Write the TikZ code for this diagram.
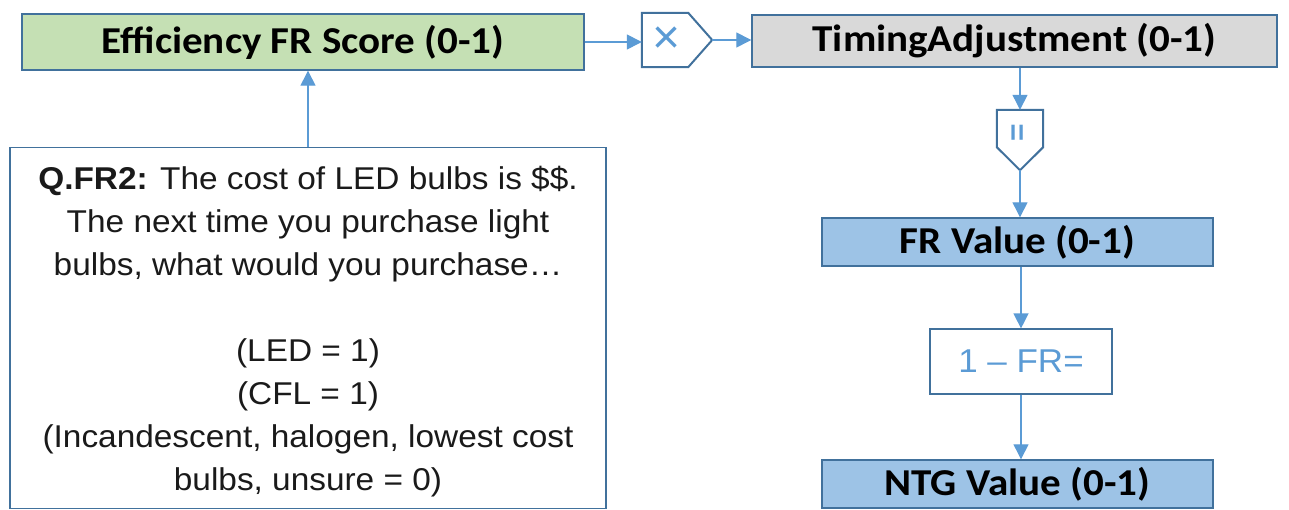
\documentclass[tikz,border=0pt]{standalone}
\usepackage{fontspec}
\setmainfont{Liberation Sans}
\newfontfamily\headfont[FakeStretch=1.08]{Carlito}
\newfontfamily\bodyfont[FakeStretch=1.06]{Liberation Sans}
\usetikzlibrary{arrows.meta}
\definecolor{edge}{HTML}{41719C}
\definecolor{link}{HTML}{5B9BD5}
\definecolor{greenfill}{HTML}{C5E0B4}
\definecolor{grayfill}{HTML}{D9D9D9}
\definecolor{bluefill}{HTML}{9DC3E6}
\definecolor{ink}{HTML}{1A1A1A}
\begin{document}
\begin{tikzpicture}[x=1pt,y=-1pt,
  base/.style={draw=edge, line width=1.4pt, inner sep=0pt, text=black,
    font=\headfont\bfseries\fontsize{38}{40}\selectfont},
  greenbox/.style={base, fill=greenfill},
  graybox/.style={base, fill=grayfill},
  bluebox/.style={base, fill=bluefill},
  plainbox/.style={draw=edge, line width=1.2pt, inner sep=0pt, fill=white},
  opshape/.style={inner sep=0pt, draw=none},
  flow/.style={draw=link, line width=1.3pt, -{Triangle[length=15pt,width=15pt]}},
]
\useasboundingbox (0,0) rectangle (1289,510);

% top row
\node[greenbox, minimum width=562pt, minimum height=56pt] (eff) at (303,42) {Efficiency FR Score (0-1)};
\node[opshape, minimum width=70pt, minimum height=54pt] (mul) at (677,40) {};
\draw[edge, line width=2pt, line join=miter, fill=white]
  (mul.north west) -- ([xshift=-24pt]mul.north east) -- (mul.east)
  -- ([xshift=-24pt]mul.south east) -- (mul.south west) -- cycle;
\node[text=link, font=\fontsize{48}{48}\selectfont] (mulsym) at ([xshift=-10pt]mul.center) {×};
\node[graybox, minimum width=525pt, minimum height=52pt] (timing) at (1014.5,41) {TimingAdjustment (0-1)};

% right column
\node[opshape, minimum width=46pt, minimum height=60pt] (eq) at (1020,140) {};
\draw[edge, line width=2pt, line join=miter, fill=white]
  (eq.north west) -- (eq.north east) -- ([yshift=23pt]eq.south east) -- (eq.south)
  -- ([yshift=23pt]eq.south west) -- cycle;
\node[text=link, font=\fontsize{30}{30}\selectfont\bfseries] (eqsym) at ([yshift=7pt]eq.center) {\rotatebox{90}{=}};
\node[bluebox, minimum width=391pt, minimum height=48pt] (frv) at (1017.5,242) {FR Value (0-1)};
\node[plainbox, minimum width=182pt, minimum height=65pt, text=link,
  font=\bodyfont\fontsize{33}{36}\selectfont] (calc) at (1021,361.5) {1 – FR=};
\node[bluebox, minimum width=391pt, minimum height=48pt] (ntg) at (1017.5,484) {NTG Value (0-1)};

% question box
\node[plainbox, minimum width=596pt, minimum height=361pt, anchor=north] (qbox) at (308,147) {};
\node[text=ink, align=center, anchor=north, font=\bodyfont\fontsize{31.5}{43}\selectfont] (qtext) at (308,163)
  {\textbf{Q.FR2:} The cost of LED bulbs is \$\$.\\
   The next time you purchase light\\
   bulbs, what would you purchase…\\[43pt]
   (LED = 1)\\
   (CFL = 1)\\
   (Incandescent, halogen, lowest cost\\
   bulbs, unsure = 0)};

% connectors
\draw[flow] (eff.east) -- (eff.east -| mul.west);
\draw[flow] (mul.east) -- (mul.east -| timing.west);
\draw[flow] (qbox.north) -- (qbox.north |- eff.south);
\draw[flow] (eq.north |- timing.south) -- (eq.north);
\draw[flow] (eq.south) -- (eq.south |- frv.north);
\draw[flow] (calc.north |- frv.south) -- (calc.north);
\draw[flow] (calc.south) -- (calc.south |- ntg.north);
\end{tikzpicture}
\end{document}
